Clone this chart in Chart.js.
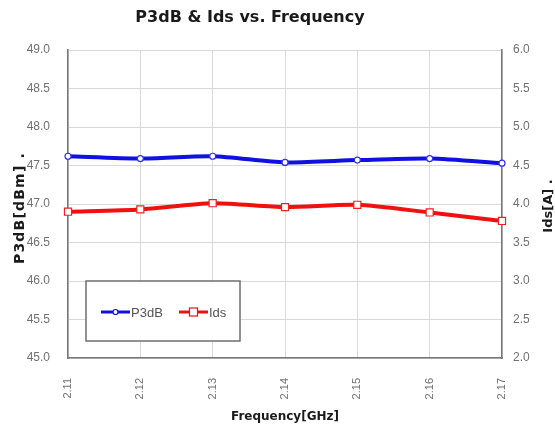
<!DOCTYPE html>
<html>
<head>
<meta charset="utf-8">
<script src="https://cdn.jsdelivr.net/npm/chart.js@4.4.1/dist/chart.umd.min.js"></script>
<style>
  html, body { margin: 0; padding: 0; background: #fff; }
  #wrap { width: 555px; height: 427px; }
</style>
</head>
<body>
<div id="wrap"><canvas id="chart" width="555" height="427"></canvas></div>
<script>
// data
const frequencies = ['2.11', '2.12', '2.13', '2.14', '2.15', '2.16', '2.17'];
const p3dbValues = [47.62, 47.59, 47.62, 47.54, 47.57, 47.59, 47.53];
const idsValues = [3.90, 3.93, 4.01, 3.96, 3.99, 3.89, 3.78];

const p3dbRange = [45.0, 49.0];
const idsRange = [2.0, 6.0];
const tickStep = 0.5;

const narrow = "'Liberation Sans Narrow', 'Liberation Sans', Arial, sans-serif";
const bold = "'DejaVu Sans', Verdana, sans-serif";

// title, axis titles and the boxed legend inside the plot
const decorations = {
    id: 'decorations',
    afterDraw(chart) {
        const ctx = chart.ctx;
        const area = chart.chartArea;
        const midY = (area.top + area.bottom) / 2;
        ctx.save();
        ctx.fillStyle = '#1a1a1a';
        ctx.textAlign = 'center';
        ctx.textBaseline = 'middle';

        ctx.font = 'bold 16px ' + bold;
        ctx.fillText('P3dB & Ids vs. Frequency', 250, 18);

        ctx.font = 'bold 12px ' + bold;
        ctx.fillText('Frequency[GHz]', (area.left + area.right) / 2, 417);

        ctx.font = 'bold 14px ' + bold;
        ctx.letterSpacing = '1.2px';
        ctx.translate(20, midY + 4);
        ctx.rotate(-Math.PI / 2);
        ctx.fillText('P3dB[dBm] .', 0, 0);
        ctx.restore();

        ctx.save();
        ctx.fillStyle = '#1a1a1a';
        ctx.textAlign = 'center';
        ctx.textBaseline = 'middle';
        ctx.font = 'bold 13px ' + bold;
        ctx.translate(549, midY + 2);
        ctx.rotate(-Math.PI / 2);
        ctx.fillText('Ids[A] .', 0, 0);
        ctx.restore();

        // legend box
        const bx = area.left + 18, by = area.bottom - 77, bw = 154, bh = 60;
        ctx.save();
        ctx.fillStyle = '#fff';
        ctx.fillRect(bx, by, bw, bh);
        ctx.strokeStyle = '#6e6e6e';
        ctx.lineWidth = 1.5;
        ctx.strokeRect(bx, by, bw, bh);

        const rowY = by + 31;
        const items = [{ x: bx + 15 }, { x: bx + 93 }];
        chart.data.datasets.forEach((ds, i) => {
            const x0 = items[i].x, x1 = x0 + 29, cx = (x0 + x1) / 2;
            ctx.strokeStyle = ds.borderColor;
            ctx.lineWidth = 3;
            ctx.beginPath();
            ctx.moveTo(x0, rowY);
            ctx.lineTo(x1, rowY);
            ctx.stroke();
            ctx.lineWidth = 1.2;
            ctx.fillStyle = '#fff';
            if (ds.pointStyle === 'rect') {
                ctx.fillRect(cx - 4, rowY - 4, 8, 8);
                ctx.strokeRect(cx - 4, rowY - 4, 8, 8);
            } else {
                ctx.beginPath();
                ctx.arc(cx, rowY, 2.5, 0, Math.PI * 2);
                ctx.fill();
                ctx.stroke();
            }
            ctx.fillStyle = '#555';
            ctx.font = '13px ' + narrow;
            ctx.textAlign = 'left';
            ctx.textBaseline = 'middle';
            ctx.fillText(ds.label, x1 + 1, rowY + 1);
        });
        ctx.restore();
    }
};

const ctx = document.getElementById('chart').getContext('2d');
new Chart(ctx, {
    type: 'line',
    data: {
        labels: frequencies,
        datasets: [
            {
                label: 'P3dB',
                data: p3dbValues,
                yAxisID: 'yLeft',
                borderColor: '#1010e0',
                backgroundColor: '#fff',
                borderWidth: 4,
                tension: 0.25,
                pointStyle: 'circle',
                pointRadius: 3,
                pointBorderWidth: 1.2,
                pointBackgroundColor: '#fff',
                pointBorderColor: '#3030f0'
            },
            {
                label: 'Ids',
                data: idsValues,
                yAxisID: 'yRight',
                borderColor: '#f01010',
                backgroundColor: '#fff',
                borderWidth: 4,
                tension: 0.25,
                pointStyle: 'rect',
                pointRadius: 5,
                pointBorderWidth: 1.2,
                pointBackgroundColor: '#fff',
                pointBorderColor: '#f02020'
            }
        ]
    },
    options: {
        responsive: false,
        animation: false,
        layout: { padding: { top: 50, left: 0, right: 0, bottom: 0 } },
        plugins: {
            legend: { display: false },
            title: { display: false },
            tooltip: { enabled: false }
        },
        scales: {
            x: {
                offset: false,
                grid: { color: '#d9d9d9', drawTicks: false },
                border: { color: '#777', width: 1.5 },
                ticks: {
                    minRotation: 90,
                    maxRotation: 90,
                    padding: 20,
                    color: '#707070',
                    font: { family: narrow, size: 11 }
                },
                afterFit(scale) { scale.height = 69; }
            },
            yLeft: {
                position: 'left',
                min: p3dbRange[0],
                max: p3dbRange[1],
                grid: { color: '#d9d9d9', drawTicks: false },
                border: { color: '#777', width: 1.5 },
                ticks: {
                    stepSize: tickStep,
                    padding: 18,
                    color: '#707070',
                    font: { family: narrow, size: 12 },
                    callback: v => v.toFixed(1)
                },
                afterFit(scale) { scale.width = 68; }
            },
            yRight: {
                position: 'right',
                min: idsRange[0],
                max: idsRange[1],
                grid: { drawOnChartArea: false, drawTicks: false },
                border: { color: '#777', width: 1.5 },
                ticks: {
                    stepSize: tickStep,
                    padding: 11,
                    color: '#707070',
                    font: { family: narrow, size: 12 },
                    callback: v => v.toFixed(1)
                },
                afterFit(scale) { scale.width = 53; }
            }
        }
    },
    plugins: [decorations]
});
</script>
</body>
</html>
